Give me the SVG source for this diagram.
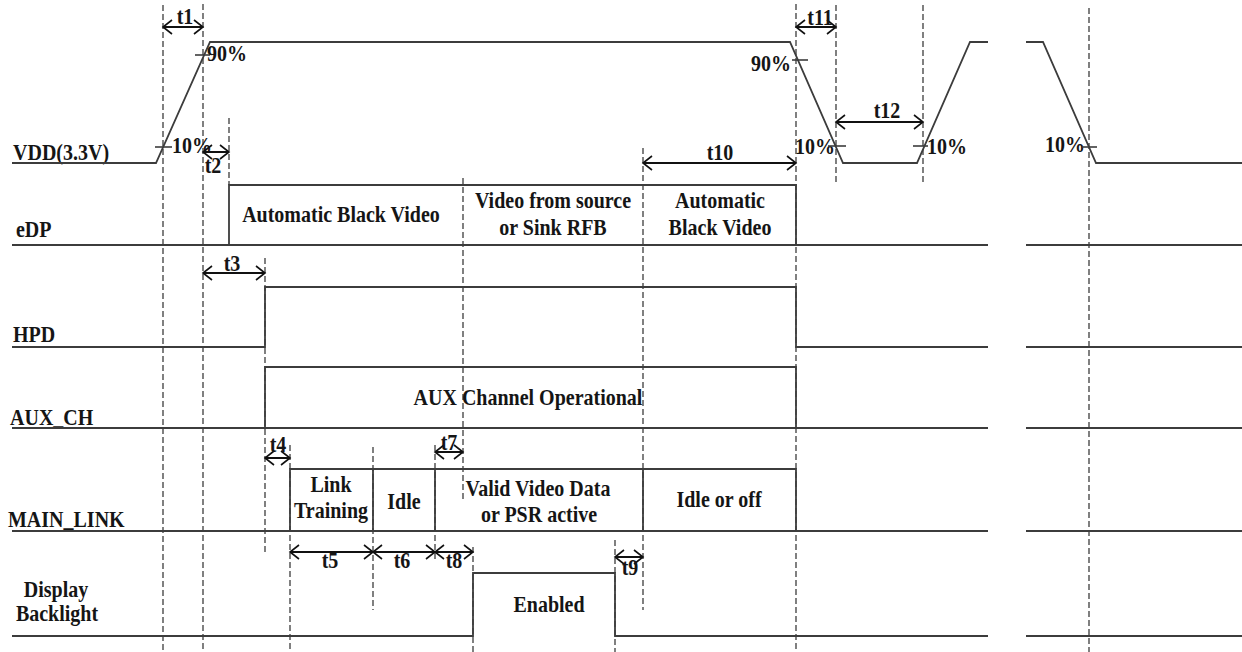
<svg xmlns="http://www.w3.org/2000/svg" width="1242" height="652" viewBox="0 0 1242 652">
<style>
text{font-family:"Liberation Serif","Times New Roman",serif;font-weight:bold;font-size:20px;fill:#151515}
.m{text-anchor:middle}
.e{text-anchor:end}
.sig{fill:none;stroke:#3c3c3c;stroke-width:1.8}
.dash{fill:none;stroke:#4a4a4a;stroke-width:1.4;stroke-dasharray:6 3}
.arr{fill:none;stroke:#111;stroke-width:2;marker-start:url(#ch);marker-end:url(#ch)}
.tick{stroke:#3c3c3c;stroke-width:1.6}
</style>
<defs>
<marker id="ch" markerUnits="userSpaceOnUse" markerWidth="20" markerHeight="20" viewBox="-10 -10 20 20" refX="0" refY="0" orient="auto-start-reverse">
<path d="M-9,-7 L0,0 L-9,7" fill="none" stroke="#111" stroke-width="1.6"/>
</marker>
</defs>
<rect width="1242" height="652" fill="#fff"/>

<g id="guides">
<line class="dash" x1="163" y1="5" x2="163" y2="652"/>
<line class="dash" x1="203" y1="4" x2="203" y2="652"/>
<line class="dash" x1="229" y1="118" x2="229" y2="185"/>
<line class="dash" x1="265" y1="258" x2="265" y2="552"/>
<line class="dash" x1="290" y1="445" x2="290" y2="652"/>
<line class="dash" x1="373" y1="447" x2="373" y2="610"/>
<line class="dash" x1="435" y1="445" x2="435" y2="560"/>
<line class="dash" x1="463" y1="178" x2="463" y2="502"/>
<line class="dash" x1="473" y1="547" x2="473" y2="652"/>
<line class="dash" x1="615" y1="540" x2="615" y2="652"/>
<line class="dash" x1="643" y1="148" x2="643" y2="610"/>
<line class="dash" x1="796" y1="4" x2="796" y2="652"/>
<line class="dash" x1="836" y1="5" x2="836" y2="185"/>
<line class="dash" x1="923" y1="5" x2="923" y2="185"/>
<line class="dash" x1="1089" y1="8" x2="1089" y2="652"/>
</g>

<g id="vdd">
<text transform="translate(13 160) scale(1 1.15)">VDD(3.3V)</text>
<polyline class="sig" points="12,163 156,163 210,42 790,42 843,163 917,163 970,42 988,42"/>
<polyline class="sig" points="1026,42 1043,42 1096,163 1242,163"/>
<line class="tick" x1="155" y1="147" x2="172" y2="147"/>
<text transform="translate(172 153) scale(1 1.15)">10%</text>
<line class="tick" x1="195" y1="55" x2="210" y2="55"/>
<text transform="translate(207 61) scale(1 1.15)">90%</text>
<text class="e" transform="translate(791 71) scale(1 1.15)">90%</text>
<line class="tick" x1="792" y1="60" x2="808" y2="60"/>
<text transform="translate(795 154) scale(1 1.15)">10%</text>
<line class="tick" x1="828" y1="146" x2="846" y2="146"/>
<line class="tick" x1="913" y1="146" x2="928" y2="146"/>
<text transform="translate(927 154) scale(1 1.15)">10%</text>
<text transform="translate(1045 152) scale(1 1.15)">10%</text>
<line class="tick" x1="1082" y1="147" x2="1097" y2="147"/>
</g>

<g id="edp">
<text transform="translate(16 237) scale(1 1.15)">eDP</text>
<polyline class="sig" points="12,245 988,245"/>
<polyline class="sig" points="1026,245 1242,245"/>
<polyline class="sig" points="229,245 229,185 796,185 796,245"/>
<text class="m" transform="translate(341 222) scale(1 1.15)">Automatic Black Video</text>
<text class="m" transform="translate(553 208) scale(1 1.15)">Video from source</text>
<text class="m" transform="translate(553 235) scale(1 1.15)">or Sink RFB</text>
<text class="m" transform="translate(720 208) scale(1 1.15)">Automatic</text>
<text class="m" transform="translate(720 235) scale(1 1.15)">Black Video</text>
</g>

<g id="hpd">
<text transform="translate(13 342) scale(1 1.15)">HPD</text>
<polyline class="sig" points="12,347 265,347 265,287 796,287 796,347 988,347"/>
<polyline class="sig" points="1026,347 1242,347"/>
</g>

<g id="aux_ch">
<text transform="translate(10 425) scale(1 1.15)">AUX_CH</text>
<polyline class="sig" points="12,428 988,428"/>
<polyline class="sig" points="1026,428 1242,428"/>
<polyline class="sig" points="265,428 265,367 796,367 796,428"/>
<text class="m" transform="translate(528 405) scale(1 1.15)">AUX Channel Operational</text>
</g>

<g id="main_link">
<text transform="translate(8 527) scale(1 1.15)">MAIN_LINK</text>
<polyline class="sig" points="12,531 988,531"/>
<polyline class="sig" points="1026,531 1242,531"/>
<polyline class="sig" points="290,531 290,469 796,469 796,531"/>
<line class="sig" x1="373" y1="469" x2="373" y2="531"/>
<line class="sig" x1="435" y1="469" x2="435" y2="531"/>
<line class="sig" x1="643" y1="469" x2="643" y2="531"/>
<text class="m" transform="translate(331 492) scale(1 1.15)">Link</text>
<text class="m" transform="translate(331 518) scale(1 1.15)">Training</text>
<text class="m" transform="translate(404 509) scale(1 1.15)">Idle</text>
<text class="m" transform="translate(538 496) scale(1 1.15)">Valid Video Data</text>
<text class="m" transform="translate(539 522) scale(1 1.15)">or PSR active</text>
<text class="m" transform="translate(719 507) scale(1 1.15)">Idle or off</text>
</g>

<g id="backlight">
<text class="m" transform="translate(56 597) scale(1 1.15)">Display</text>
<text class="m" transform="translate(57 621) scale(1 1.15)">Backlight</text>
<polyline class="sig" points="12,636 473,636 473,573 615,573 615,636 988,636"/>
<polyline class="sig" points="1026,636 1242,636"/>
<text class="m" transform="translate(549 612) scale(1 1.15)">Enabled</text>
</g>

<g id="connectors">
<line class="arr" x1="163" y1="27" x2="203" y2="27"/>
<line class="arr" x1="203" y1="152" x2="229" y2="152"/>
<line class="arr" x1="203" y1="273" x2="265" y2="273"/>
<line class="arr" x1="265" y1="458" x2="290" y2="458"/>
<line class="arr" x1="435" y1="452" x2="463" y2="452"/>
<line class="arr" x1="290" y1="552" x2="373" y2="552"/>
<line class="arr" x1="373" y1="552" x2="435" y2="552"/>
<line class="arr" x1="435" y1="552" x2="473" y2="552"/>
<line class="arr" x1="615" y1="557" x2="643" y2="557"/>
<line class="arr" x1="643" y1="163" x2="796" y2="163"/>
<line class="arr" x1="796" y1="27" x2="836" y2="27"/>
<line class="arr" x1="836" y1="122" x2="923" y2="122"/>
</g>

<g id="timing-labels">
<text class="m" transform="translate(185 24) scale(1 1.15)">t1</text>
<text class="m" transform="translate(213 173) scale(1 1.15)">t2</text>
<text class="m" transform="translate(232 271) scale(1 1.15)">t3</text>
<text class="m" transform="translate(278 452) scale(1 1.15)">t4</text>
<text class="m" transform="translate(330 568) scale(1 1.15)">t5</text>
<text class="m" transform="translate(402 568) scale(1 1.15)">t6</text>
<text class="m" transform="translate(449 450) scale(1 1.15)">t7</text>
<text class="m" transform="translate(454 568) scale(1 1.15)">t8</text>
<text class="m" transform="translate(630 575) scale(1 1.15)">t9</text>
<text class="m" transform="translate(720 160) scale(1 1.15)">t10</text>
<text class="m" transform="translate(820 25) scale(1 1.15)">t11</text>
<text class="m" transform="translate(887 118) scale(1 1.15)">t12</text>
</g>
</svg>
